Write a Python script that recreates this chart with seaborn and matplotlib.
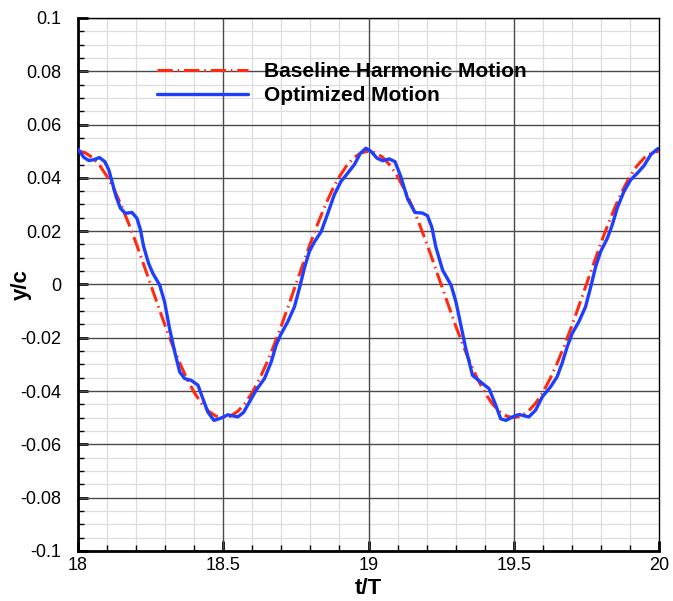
import numpy as np
import pandas as pd
import matplotlib
matplotlib.use("Agg")
import matplotlib.pyplot as plt
import seaborn as sns
from matplotlib.ticker import MultipleLocator

# Baseline harmonic motion (every 0.025 t/T)
base_t = [18.000, 18.025, 18.050, 18.075, 18.100, 18.125, 18.150, 18.175, 18.200, 18.225,
          18.250, 18.275, 18.300, 18.325, 18.350, 18.375, 18.400, 18.425, 18.450, 18.475,
          18.500, 18.525, 18.550, 18.575, 18.600, 18.625, 18.650, 18.675, 18.700, 18.725,
          18.750, 18.775, 18.800, 18.825, 18.850, 18.875, 18.900, 18.925, 18.950, 18.975,
          19.000, 19.025, 19.050, 19.075, 19.100, 19.125, 19.150, 19.175, 19.200, 19.225,
          19.250, 19.275, 19.300, 19.325, 19.350, 19.375, 19.400, 19.425, 19.450, 19.475,
          19.500, 19.525, 19.550, 19.575, 19.600, 19.625, 19.650, 19.675, 19.700, 19.725,
          19.750, 19.775, 19.800, 19.825, 19.850, 19.875, 19.900, 19.925, 19.950, 19.975,
          20.000]
base_y = [0.0500, 0.0494, 0.0476, 0.0446, 0.0405, 0.0354, 0.0294, 0.0227, 0.0155, 0.0078,
          0.0000, -0.0078, -0.0155, -0.0227, -0.0294, -0.0354, -0.0405, -0.0446, -0.0476, -0.0494,
          -0.0500, -0.0494, -0.0476, -0.0446, -0.0405, -0.0354, -0.0294, -0.0227, -0.0155, -0.0078,
          0.0000, 0.0078, 0.0155, 0.0227, 0.0294, 0.0354, 0.0405, 0.0446, 0.0476, 0.0494,
          0.0500, 0.0494, 0.0476, 0.0446, 0.0405, 0.0354, 0.0294, 0.0227, 0.0155, 0.0078,
          0.0000, -0.0078, -0.0155, -0.0227, -0.0294, -0.0354, -0.0405, -0.0446, -0.0476, -0.0494,
          -0.0500, -0.0494, -0.0476, -0.0446, -0.0405, -0.0354, -0.0294, -0.0227, -0.0155, -0.0078,
          0.0000, 0.0078, 0.0155, 0.0227, 0.0294, 0.0354, 0.0405, 0.0446, 0.0476, 0.0494,
          0.0500]

opt_t = [18.000, 18.020, 18.037, 18.054, 18.074, 18.092, 18.106, 18.117, 18.131, 18.146,
         18.163, 18.186, 18.203, 18.215, 18.226, 18.243, 18.258, 18.281, 18.298, 18.315,
         18.333, 18.350, 18.367, 18.390, 18.413, 18.430, 18.447, 18.468, 18.493, 18.516,
         18.550, 18.570, 18.590, 18.613, 18.642, 18.665, 18.682, 18.697, 18.722, 18.745,
         18.762, 18.779, 18.796, 18.814, 18.837, 18.860, 18.882, 18.905, 18.928, 18.951,
         18.972, 18.991, 19.009, 19.029, 19.049, 19.071, 19.091, 19.111, 19.135, 19.160,
         19.185, 19.203, 19.218, 19.232, 19.255, 19.284, 19.301, 19.318, 19.335, 19.358,
         19.386, 19.415, 19.438, 19.455, 19.473, 19.500, 19.518, 19.552, 19.575, 19.598,
         19.626, 19.649, 19.666, 19.684, 19.701, 19.724, 19.747, 19.765, 19.782, 19.799,
         19.822, 19.839, 19.856, 19.879, 19.902, 19.925, 19.948, 19.971, 19.994, 20.000]
opt_y = [0.0508, 0.0477, 0.0465, 0.0468, 0.0476, 0.0461, 0.0430, 0.0386, 0.0330, 0.0286,
         0.0267, 0.0270, 0.0248, 0.0205, 0.0142, 0.0079, 0.0041, -0.0002, -0.0065, -0.0165,
         -0.0253, -0.0328, -0.0353, -0.0360, -0.0378, -0.0429, -0.0479, -0.0510, -0.0501, -0.0489,
         -0.0497, -0.0480, -0.0441, -0.0397, -0.0353, -0.0291, -0.0228, -0.0190, -0.0140, -0.0084,
         -0.0015, 0.0060, 0.0123, 0.0160, 0.0198, 0.0267, 0.0336, 0.0386, 0.0417, 0.0449,
         0.0492, 0.0511, 0.0499, 0.0474, 0.0464, 0.0471, 0.0461, 0.0405, 0.0320, 0.0270,
         0.0268, 0.0258, 0.0215, 0.0140, 0.0054, -0.0002, -0.0065, -0.0153, -0.0241, -0.0341,
         -0.0366, -0.0391, -0.0453, -0.0504, -0.0510, -0.0495, -0.0488, -0.0497, -0.0472, -0.0422,
         -0.0385, -0.0347, -0.0297, -0.0234, -0.0184, -0.0140, -0.0084, -0.0009, 0.0067, 0.0123,
         0.0173, 0.0223, 0.0286, 0.0348, 0.0392, 0.0417, 0.0445, 0.0486, 0.0508, 0.0510]

series_labels = ["Baseline Harmonic Motion", "Optimized Motion"]

base_df = pd.DataFrame({"t": base_t, "y": base_y})
opt_df = pd.DataFrame({"t": opt_t, "y": opt_y})

sns.set_theme(style="white")
plt.rcParams['font.family'] = ['Liberation Sans', 'DejaVu Sans']
plt.rcParams.update({"text.color": "black", "axes.labelcolor": "black",
                     "xtick.color": "black", "ytick.color": "black"})

fig = plt.figure(figsize=(6.73, 6.01), dpi=100)
ax = fig.add_axes([0.1159, 0.0832, 0.8633, 0.8870])

sns.lineplot(data=base_df, x="t", y="y", ax=ax, color="#ff2a10", lw=2.2,
             linestyle=(0, (5, 1.6, 0.5, 1.6)), label=series_labels[0], zorder=3)
sns.lineplot(data=opt_df, x="t", y="y", ax=ax, color="#1f3fff", lw=2.4,
             label=series_labels[1], zorder=4)

ax.set_xlim(18, 20)
ax.set_ylim(-0.1, 0.1)
ax.xaxis.set_major_locator(MultipleLocator(0.5))
ax.xaxis.set_minor_locator(MultipleLocator(0.1))
ax.yaxis.set_major_locator(MultipleLocator(0.02))
ax.yaxis.set_minor_locator(MultipleLocator(0.005))

# minor grid via axis, major grid drawn on top of it
ax.grid(which="minor", color="#dddddd", lw=0.9)
ax.grid(which="major", visible=False)
ax.set_axisbelow(True)
for xv in ax.get_xticks():
    if 18 < xv < 20:
        ax.axvline(xv, color="#4a4a4a", lw=1.0, zorder=1)
for yv in ax.get_yticks():
    if -0.1 < yv < 0.1:
        ax.axhline(yv, color="#4a4a4a", lw=1.0, zorder=1)

def fmt(v, pos):
    s = f"{v:.2f}".rstrip("0").rstrip(".")
    if s in ("-0", "0"):
        return "0"
    return s
ax.xaxis.set_major_formatter(plt.FuncFormatter(fmt))
ax.yaxis.set_major_formatter(plt.FuncFormatter(fmt))

ax.tick_params(which="major", direction="in", length=7, width=2, labelsize=13,
               bottom=True, left=True, top=False, right=False)
ax.tick_params(axis="y", which="major", pad=12)
ax.tick_params(axis="x", which="major", pad=4)
ax.tick_params(which="minor", direction="in", length=4, width=1,
               bottom=True, left=True, top=False, right=False)
for s in ax.spines.values():
    s.set_linewidth(2)
    s.set_color("black")
ax.spines["top"].set_linewidth(1)
ax.spines["right"].set_linewidth(1)

ax.set_xlabel("t/T", fontsize=16, fontweight="bold", labelpad=3)
ax.set_ylabel("y/c", fontsize=16, fontweight="bold")
ax.yaxis.set_label_coords(-0.08, 0.5)

leg = ax.legend(loc="upper left", bbox_to_anchor=(0.121, 0.9325), frameon=False,
                prop={"weight": "bold", "size": 15}, handlelength=4.4,
                handletextpad=0.75, labelspacing=0.25, borderaxespad=0)

fig.savefig("out.png", dpi=100)
